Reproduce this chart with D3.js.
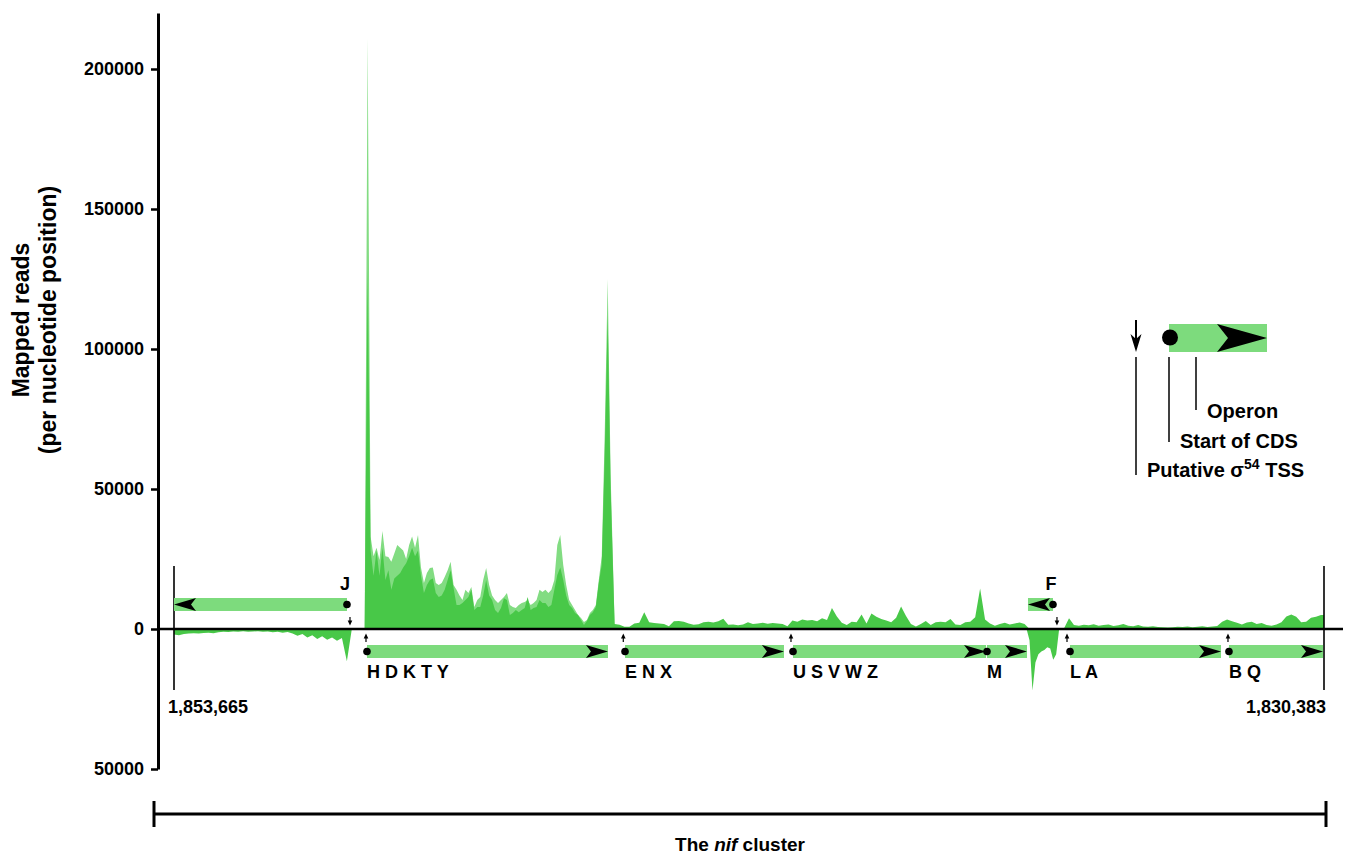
<!DOCTYPE html>
<html>
<head>
<meta charset="utf-8">
<script src="https://cdn.jsdelivr.net/npm/d3@7"></script>
<style>
  body { margin: 0; background: #fff; }
  svg text { font-family: "Liberation Sans", Arial, Helvetica, sans-serif; font-weight: bold; fill: #000; }
</style>
</head>
<body>
<svg id="chart" width="1349" height="857"></svg>
<script>
// Genomic span of the nif cluster (drawn left to right, coordinates decreasing)
const clusterLeft = 1853665;
const clusterRight = 1830383;

// y axis ticks (reads per nucleotide position; negative = minus strand)
const yTicks = [200000, 150000, 100000, 50000, 0, -50000];

// Plus-strand coverage across the HDKTY operon: 60-nt bins, first bin 3,860 nt into the cluster
const hdktyBinStart = 3860, hdktyBinSize = 60;
const hdktyReadsA = [0, 211000, 33000, 26000, 29000, 24600, 35000, 26000, 25700, 24000,
  27000, 30000, 29000, 28000, 25000, 30000, 33000, 29000, 33600, 22000,
  16400, 20000, 21800, 22000, 16400, 15700, 16400, 18600, 21000, 24000,
  15700, 14000, 12000, 10400, 14000, 12900, 15000, 7900, 10400, 11400,
  17500, 21800, 15700, 12000, 10400, 9300, 10400, 11400, 12900, 8600,
  7900, 7500, 8600, 9300, 9600, 10400, 8600, 9300, 10400, 14000,
  13200, 14000, 12900, 14000, 17500, 30000, 33600, 22900, 15700, 10400,
  8600, 6800, 5000, 3900, 2500, 3200, 5700, 6800, 8600, 17500,
  26000, 70000, 125000, 55000];
const hdktyReadsB = [0, 128000, 28000, 19000, 28000, 19000, 29000, 17500, 21000, 14000,
  18000, 19000, 20000, 22000, 23500, 26000, 29000, 26000, 28000, 19000,
  12900, 15700, 17500, 18000, 12900, 11400, 12000, 14000, 17500, 21000,
  14600, 8600, 8600, 9300, 10400, 11400, 14000, 6800, 7900, 7900,
  12000, 17500, 12000, 10400, 6800, 5700, 7500, 11000, 10400, 5000,
  5700, 6800, 6000, 6800, 7500, 11400, 6800, 7500, 7900, 10400,
  9300, 9300, 7900, 8600, 14000, 19300, 22000, 17500, 12000, 8600,
  7500, 5700, 5000, 3200, 1400, 2900, 5000, 6000, 7900, 16400,
  23000, 62000, 112000, 50000];

// Plus-strand coverage from ENX to the right edge: 100-nt bins starting at 8,920 nt
const downstreamBinStart = 8920, downstreamBinSize = 100;
const downstreamReads = [1800, 1500, 800, 800, 2000, 2200, 6000, 2400, 2100, 2000,
  1800, 1000, 2800, 2900, 2600, 2000, 1500, 1700, 2400, 2600,
  2300, 2800, 3700, 1500, 1600, 1300, 1600, 2400, 1800, 2000,
  2200, 1900, 2100, 2000, 1800, 1000, 3000, 2600, 3400, 3000,
  3200, 2800, 3800, 3200, 7500, 4500, 2200, 1400, 2600, 2400,
  5200, 2000, 5500, 4400, 3600, 3000, 2400, 4000, 8000, 4600,
  1800, 900, 1800, 2900, 1400, 2400, 2600, 2400, 3600, 1600,
  1400, 2400, 2600, 4200, 14500, 3400, 2000, 1200, 1800, 2200,
  1600, 2000, 2300, 1800, 0, 0, 0, 0, 0, 0,
  0, 300, 3800, 1400, 1200, 1500, 1300, 1700, 1200, 1400,
  1600, 1100, 1300, 1800, 1200, 1000, 1400, 900, 800, 1000,
  700, 600, 500, 600, 800, 700, 900, 600, 800, 1000,
  700, 900, 1100, 2600, 3400, 2800, 2200, 1600, 2300, 2600,
  1800, 2100, 1400, 1200, 1600, 2400, 4500, 5200, 4400, 2400,
  2600, 4000, 4400, 5000];

// Minus-strand coverage over nifJ (100-nt bins from the left edge) and nifF (60-nt bins)
const nifJBinStart = 0, nifJBinSize = 100;
const nifJReads = [-2000, -2200, -1800, -1600, -1500, -1600, -1400, -1300, -1500, -1200,
  -1000, -1100, -900, -1000, -800, -1000, -900, -800, -1000, -900,
  -1200, -1000, -1300, -1100, -1600, -2400, -1800, -3000, -2200, -3600,
  -2600, -3800, -3000, -4200, -3200, -11500, 0];
const nifFBinStart = 17260, nifFBinSize = 60;
const nifFReads = [0, -4000, -22000, -12000, -9000, -8000, -7500, -6500, -7000, -11000, -9000, 0];

// Operons (positions in nt from the left edge of the cluster)
const operonLabels = ["J", "H D K T Y", "E N X", "U S V W Z", "M", "F", "L A", "B Q"];
const operonFrom   = [0, 3907, 9131, 12532, 16459, 17289, 18140, 21358];
const operonTo     = [3502, 8786, 12349, 16440, 17269, 17795, 21197, 23262];
const operonStrand = [-1, 1, 1, 1, 1, -1, 1, 1];

// Putative sigma-54 transcription start sites
const tssPos    = [3563, 3887, 9096, 12491, 17876, 18079, 21338];
const tssStrand = [-1, 1, 1, 1, -1, 1, 1];

const LIGHT = "#82dc82";
const DARK = "#48c848";
const BAR = "#7ddb7d";

const svg = d3.select("#chart");
const clusterLen = clusterLeft - clusterRight;

const x = d3.scaleLinear().domain([0, clusterLen]).range([174, 1324]);
const y = d3.scaleLinear().domain([-50000, 220000]).range([769, 13]);

const binned = (start, size, vals) => vals.map((v, i) => ({ pos: start + i * size, v }));

const plusB = binned(hdktyBinStart, hdktyBinSize, hdktyReadsB)
  .concat(binned(downstreamBinStart, downstreamBinSize, downstreamReads));
plusB.push({ pos: clusterLen, v: downstreamReads[downstreamReads.length - 1] });
const plusA = binned(hdktyBinStart, hdktyBinSize, hdktyReadsA)
  .concat([{ pos: downstreamBinStart, v: downstreamReads[0] }]);
const minusJ = binned(nifJBinStart, nifJBinSize, nifJReads);
const minusF = binned(nifFBinStart, nifFBinSize, nifFReads);

const area = d3.area().x(d => x(d.pos)).y0(y(0)).y1(d => y(d.v));

const cov = svg.append("g");
cov.append("path").datum(plusA).attr("d", area).attr("fill", LIGHT);
cov.append("path").datum(plusB).attr("d", area).attr("fill", DARK);
cov.append("path").datum(minusJ).attr("d", area).attr("fill", DARK);
cov.append("path").datum(minusF).attr("d", area).attr("fill", DARK);

// y axis
const yAxis = d3.axisLeft(y)
  .tickValues(yTicks)
  .tickFormat(d => String(Math.abs(d)))
  .tickSize(7)
  .tickSizeOuter(0)
  .tickPadding(7);
const gy = svg.append("g").attr("transform", "translate(158,0)").call(yAxis);
gy.attr("font-size", 18).attr("font-family", null);
gy.select(".domain").attr("stroke", "#000").attr("stroke-width", 3);
gy.selectAll(".tick line").attr("stroke", "#000").attr("stroke-width", 2.5);
gy.selectAll(".tick text").attr("fill", "#000");

// y axis title
const titleY = 320;
svg.append("text").attr("transform", `translate(29,${titleY}) rotate(-90)`)
  .attr("text-anchor", "middle").attr("font-size", 23).text("Mapped reads");
svg.append("text").attr("transform", `translate(56,${titleY}) rotate(-90)`)
  .attr("text-anchor", "middle").attr("font-size", 23).text("(per nucleotide position)");

// zero baseline
svg.append("line").attr("x1", 158).attr("x2", 1343).attr("y1", y(0)).attr("y2", y(0))
  .attr("stroke", "#000").attr("stroke-width", 2.5);

// cluster boundaries
[0, clusterLen].forEach(p => {
  svg.append("line").attr("x1", x(p)).attr("x2", x(p)).attr("y1", 566).attr("y2", 690)
    .attr("stroke", "#000").attr("stroke-width", 1.6);
});
const fmt = d3.format(",");
svg.append("text").attr("x", x(0) - 6).attr("y", 713).attr("font-size", 18).text(fmt(clusterLeft));
svg.append("text").attr("x", x(clusterLen) + 2).attr("y", 713).attr("font-size", 18)
  .attr("text-anchor", "end").text(fmt(clusterRight));

// operon bars
const trackY = s => (s > 0 ? 651.5 : 604.5);
const halfH = 6.5;
const genes = svg.append("g");
operonLabels.forEach((lab, i) => {
  const s = operonStrand[i];
  const x0 = x(operonFrom[i]), x1 = x(operonTo[i]);
  const yc = trackY(s);
  genes.append("rect").attr("x", x0).attr("y", yc - halfH).attr("width", x1 - x0).attr("height", 2 * halfH)
    .attr("fill", BAR);
});
operonLabels.forEach((lab, i) => {
  const s = operonStrand[i];
  const x0 = x(operonFrom[i]), x1 = x(operonTo[i]);
  const yc = trackY(s);
  // arrowhead at the 3' end
  const tip = s > 0 ? x1 : x0;
  const back = tip - s * 22, notch = tip - s * 17;
  genes.append("path")
    .attr("d", `M${tip},${yc} L${back},${yc - halfH} L${notch},${yc} L${back},${yc + halfH} Z`)
    .attr("fill", "#000");
  // start of CDS
  const cds = s > 0 ? x0 : x1;
  genes.append("circle").attr("cx", cds).attr("cy", yc).attr("r", 3.8).attr("fill", "#000");
  // operon label
  if (s > 0) {
    genes.append("text").attr("x", cds).attr("y", 678).attr("font-size", 18).text(lab);
  } else {
    genes.append("text").attr("x", cds - 2).attr("y", 590).attr("font-size", 18)
      .attr("text-anchor", "middle").text(lab);
  }
});

// TSS arrows
tssPos.forEach((p, i) => {
  const xp = x(p);
  if (tssStrand[i] > 0) {
    genes.append("line").attr("x1", xp).attr("x2", xp).attr("y1", 642).attr("y2", 637)
      .attr("stroke", "#000").attr("stroke-width", 1.2);
    genes.append("path").attr("d", `M${xp - 2.3},${638.5} L${xp},${633.5} L${xp + 2.3},${638.5} Z`).attr("fill", "#000");
  } else {
    genes.append("line").attr("x1", xp).attr("x2", xp).attr("y1", 617).attr("y2", 622)
      .attr("stroke", "#000").attr("stroke-width", 1.2);
    genes.append("path").attr("d", `M${xp - 2.3},${620.5} L${xp},${625.5} L${xp + 2.3},${620.5} Z`).attr("fill", "#000");
  }
});

// key
const key = svg.append("g");
key.append("rect").attr("x", 1169).attr("y", 324).attr("width", 98).attr("height", 28).attr("fill", BAR);
key.append("path").attr("d", "M1267,338 L1217,324 L1228,338 L1217,352 Z").attr("fill", "#000");
key.append("circle").attr("cx", 1170).attr("cy", 337.5).attr("r", 8).attr("fill", "#000");
key.append("line").attr("x1", 1136).attr("x2", 1136).attr("y1", 320).attr("y2", 344)
  .attr("stroke", "#000").attr("stroke-width", 2);
key.append("path").attr("d", "M1130.5,334 L1136,352 L1141.5,334 L1136,339 Z").attr("fill", "#000");
[[1136, 475], [1169, 442], [1196, 410]].forEach(([lx, ly]) => {
  key.append("line").attr("x1", lx).attr("x2", lx).attr("y1", 357).attr("y2", ly)
    .attr("stroke", "#000").attr("stroke-width", 1.5);
});
key.append("text").attr("x", 1207).attr("y", 418).attr("font-size", 20).text("Operon");
key.append("text").attr("x", 1180).attr("y", 448).attr("font-size", 20).text("Start of CDS");
const tssText = key.append("text").attr("x", 1147).attr("y", 477).attr("font-size", 20);
tssText.append("tspan").text("Putative \u03c3");
tssText.append("tspan").attr("font-size", 14).attr("dy", -8).text("54");
tssText.append("tspan").attr("dy", 8).text(" TSS");

// cluster bracket
svg.append("line").attr("x1", 154).attr("x2", 1326).attr("y1", 814).attr("y2", 814)
  .attr("stroke", "#000").attr("stroke-width", 3);
[154, 1326].forEach(bx => {
  svg.append("line").attr("x1", bx).attr("x2", bx).attr("y1", 801).attr("y2", 827)
    .attr("stroke", "#000").attr("stroke-width", 3);
});
const cap = svg.append("text").attr("x", 740).attr("y", 851).attr("font-size", 19).attr("text-anchor", "middle");
cap.append("tspan").text("The ");
cap.append("tspan").attr("font-style", "italic").text("nif");
cap.append("tspan").text(" cluster");
</script>
</body>
</html>
